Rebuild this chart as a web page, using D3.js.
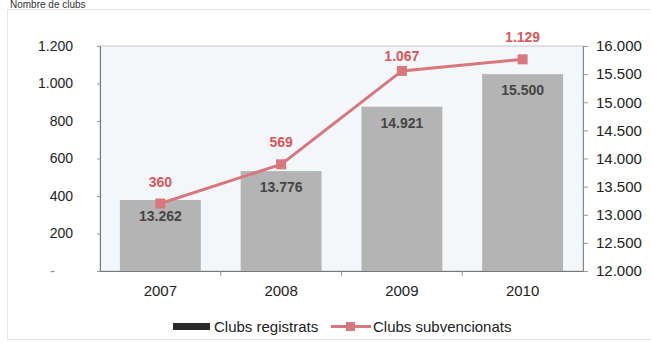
<!DOCTYPE html>
<html><head><meta charset="utf-8">
<script src="https://cdn.jsdelivr.net/npm/d3@7"></script>
<style>
html,body{margin:0;padding:0;background:#fff;}
svg{display:block;font-family:Arial,"Liberation Sans",Helvetica,sans-serif;}
</style></head>
<body>
<svg id="c" width="651" height="348"></svg>
<script>
const years = ["2007","2008","2009","2010"];
const registrats = [13262, 13776, 14921, 15500];
const subvencionats = [360, 569, 1067, 1129];
const leftTicks = [0, 200, 400, 600, 800, 1000, 1200];
const rightTicks = [12000, 12500, 13000, 13500, 14000, 14500, 15000, 15500, 16000];
const seriesNames = ["Clubs registrats", "Clubs subvencionats"];
const title = "Nombre de clubs";

const svg = d3.select("#c");
const fmt = v => v === 0 ? "-" : d3.formatLocale({decimal:",", thousands:".", grouping:[3], currency:["",""]}).format(",")(v);

const L = 100, R = 583, T = 46, B = 271;
const barColor = "#b4b4b4", lineColor = "#d8777e", labelRed = "#d9575d";

// outer frame
svg.append("rect").attr("x",7.5).attr("y",9.5).attr("width",660).attr("height",330)
  .attr("fill","none").attr("stroke","#e3e7ea");
svg.append("text").attr("x",10).attr("y",8).attr("font-size",10).attr("fill","#333").text(title);

// plot background
svg.append("rect").attr("x",L).attr("y",T).attr("width",R-L).attr("height",B-T)
  .attr("fill","#f4f7fa").attr("stroke","#c4c8cc");

const x = d3.scaleBand().domain(years).range([L,R]).padding(0);
const yL = d3.scaleLinear().domain([0,1200]).range([B,T]);
const yR = d3.scaleLinear().domain([12000,16000]).range([B,T]);
const bw = x.bandwidth()*0.67;

// bars
svg.append("g").selectAll("rect").data(years).join("rect")
  .attr("x",(d)=>x(d)+(x.bandwidth()-bw)/2)
  .attr("width",bw)
  .attr("y",(d,i)=>yR(registrats[i]))
  .attr("height",(d,i)=>B-yR(registrats[i]))
  .attr("fill",barColor);

svg.append("g").selectAll("text").data(years).join("text")
  .attr("x",d=>x(d)+x.bandwidth()/2)
  .attr("y",(d,i)=>yR(registrats[i])+21)
  .attr("text-anchor","middle").attr("font-size",14).attr("font-weight","bold")
  .attr("fill","#454545")
  .text((d,i)=>fmt(registrats[i]));

// axes
const axL = d3.axisLeft(yL).tickValues(leftTicks).tickSize(3).tickFormat(fmt);
const gL = svg.append("g").attr("transform",`translate(${L},0)`).call(axL);
gL.select(".domain").attr("stroke","#777");
gL.selectAll(".tick line").attr("stroke","#999");
gL.selectAll(".tick text").attr("font-size",14).attr("fill","#222").attr("x",-27)
  .attr("font-family","Arial,'Liberation Sans',sans-serif");
gL.selectAll(".tick text").filter(d=>d===0).attr("x",-45).attr("fill","#888");

const axR = d3.axisRight(yR).tickValues(rightTicks).tickSize(5).tickFormat(fmt);
const gR = svg.append("g").attr("transform",`translate(${R},0)`).call(axR);
gR.select(".domain").attr("stroke","#888");
gR.selectAll(".tick line").attr("stroke","#999");
gR.selectAll(".tick text").attr("font-size",15).attr("fill","#222").attr("x",13)
  .attr("font-family","Arial,'Liberation Sans',sans-serif");

const axB = d3.axisBottom(x).tickSize(0);
const gB = svg.append("g").attr("transform",`translate(0,${B})`).call(axB);
gB.select(".domain").attr("stroke","#777");
gB.selectAll(".tick text").attr("font-size",15).attr("fill","#222").attr("dy","1.45em")
  .attr("font-family","Arial,'Liberation Sans',sans-serif");
// separator ticks between categories
svg.append("g").selectAll("line").data(years.slice(1)).join("line")
  .attr("x1",d=>x(d)).attr("x2",d=>x(d)).attr("y1",B).attr("y2",B+5)
  .attr("stroke","#999");

// line series
const pts = years.map((d,i)=>[x(d)+x.bandwidth()/2, yL(subvencionats[i])]);
svg.append("path").attr("d",d3.line()(pts)).attr("fill","none")
  .attr("stroke",lineColor).attr("stroke-width",3);
svg.append("g").selectAll("rect").data(pts).join("rect")
  .attr("x",p=>p[0]-5).attr("y",p=>p[1]-5).attr("width",10).attr("height",10)
  .attr("fill",lineColor);
svg.append("g").selectAll("text").data(years).join("text")
  .attr("x",d=>x(d)+x.bandwidth()/2)
  .attr("y",(d,i)=>yL(subvencionats[i])-[17,17,10,17][i])
  .attr("text-anchor","middle").attr("font-size",14).attr("font-weight","bold")
  .attr("fill",labelRed)
  .text((d,i)=>fmt(subvencionats[i]));

// legend
const lg = svg.append("g");
lg.append("rect").attr("x",173).attr("y",323).attr("width",37).attr("height",7).attr("fill","#2a2a2a");
lg.append("text").attr("x",214).attr("y",332).attr("font-size",15).attr("fill","#222").text(seriesNames[0]);
lg.append("line").attr("x1",331).attr("x2",371).attr("y1",326.5).attr("y2",326.5)
  .attr("stroke",lineColor).attr("stroke-width",3);
lg.append("rect").attr("x",346).attr("y",322).attr("width",9).attr("height",9).attr("fill",lineColor);
lg.append("text").attr("x",373).attr("y",332).attr("font-size",15).attr("fill","#222").text(seriesNames[1]);
</script>
</body></html>
